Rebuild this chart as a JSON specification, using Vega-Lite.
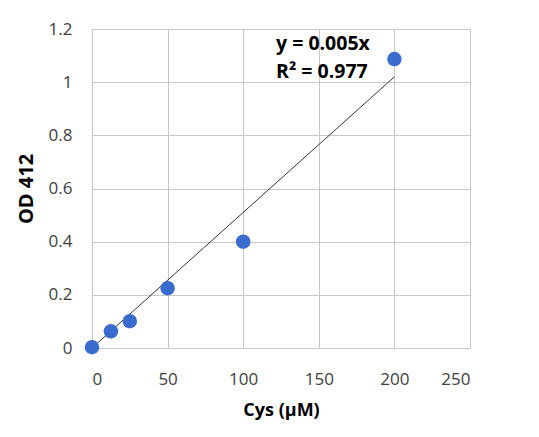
{
  "$schema": "https://vega.github.io/schema/vega-lite/v6.json",
  "width": 378,
  "height": 319,
  "autosize": "none",
  "padding": {"left": 92, "top": 29, "right": 69, "bottom": 89},
  "background": "white",
  "config": {
    "font": "Open Sans",
    "view": {"stroke": "#bfbfbf", "strokeWidth": 1},
    "axis": {
      "grid": true,
      "gridColor": "#c8c8c8",
      "gridWidth": 1,
      "domain": false,
      "ticks": false,
      "labelFont": "Open Sans",
      "labelFontSize": 17,
      "labelColor": "#404040",
      "titleFont": "Open Sans",
      "titleFontWeight": "bold",
      "titleColor": "#000000"
    }
  },
  "datasets": {
    "points": [
      {"cys": 0, "od": 0.003},
      {"cys": 12.5, "od": 0.063},
      {"cys": 25, "od": 0.101},
      {"cys": 50, "od": 0.225},
      {"cys": 100, "od": 0.4},
      {"cys": 200, "od": 1.087}
    ],
    "trend": [
      {"cys": 0, "od": 0},
      {"cys": 200, "od": 1.02}
    ],
    "labels": [
      {"cys": 121.7, "od": 1.144, "text": "y = 0.005x"},
      {"cys": 121.7, "od": 1.038, "text": "R² = 0.977"}
    ]
  },
  "layer": [
    {
      "data": {"name": "trend"},
      "mark": {"type": "line", "color": "#000000", "strokeWidth": 0.8},
      "encoding": {
        "x": {
          "field": "cys", "type": "quantitative",
          "scale": {"domain": [0, 250], "nice": false},
          "axis": {"values": [0, 50, 100, 150, 200, 250], "title": "Cys (μM)", "titleFontSize": 18, "labelPadding": 23, "titlePadding": 14}
        },
        "y": {
          "field": "od", "type": "quantitative",
          "scale": {"domain": [0, 1.2], "nice": false},
          "axis": {"values": [0, 0.2, 0.4, 0.6, 0.8, 1, 1.2], "format": "~g", "title": "OD 412", "titleFontSize": 20, "labelPadding": 20, "titlePadding": 12}
        }
      }
    },
    {
      "data": {"name": "points"},
      "mark": {"type": "circle", "size": 210, "color": "#3a6bcf", "opacity": 1},
      "encoding": {
        "x": {"field": "cys", "type": "quantitative"},
        "y": {"field": "od", "type": "quantitative"}
      }
    },
    {
      "data": {"name": "labels"},
      "mark": {"type": "text", "align": "left", "baseline": "middle", "font": "Open Sans", "fontSize": 19.5, "fontWeight": "bold", "color": "#000000"},
      "encoding": {
        "x": {"field": "cys", "type": "quantitative"},
        "y": {"field": "od", "type": "quantitative"},
        "text": {"field": "text"}
      }
    }
  ]
}
